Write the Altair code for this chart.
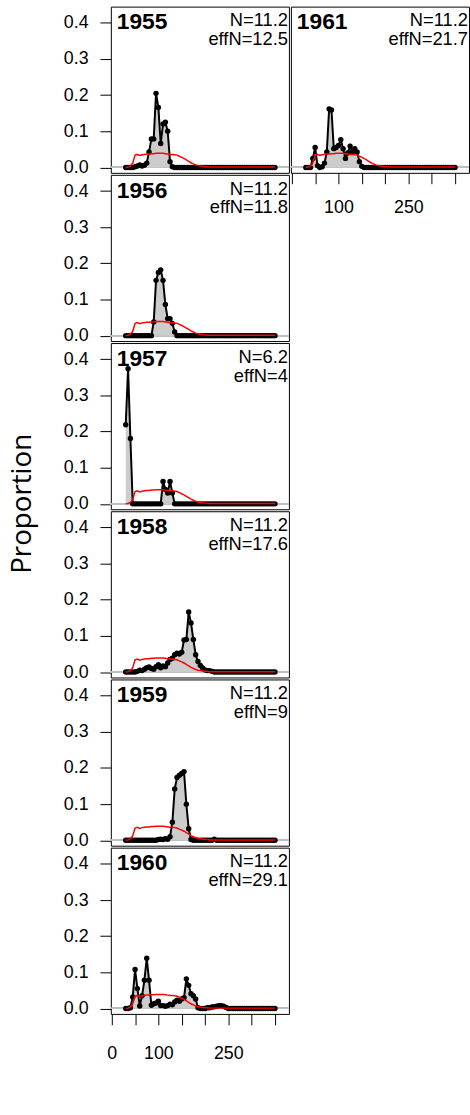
import altair as alt
import pandas as pd

# Length bins (cm)
bins = list(range(30, 351, 5))

years = [1955, 1956, 1957, 1958, 1959, 1960, 1961]
n_text = ["11.2", "11.2", "6.2", "11.2", "11.2", "11.2", "11.2"]
effn_text = ["12.5", "11.8", "4", "17.6", "9", "29.1", "21.7"]

# expected proportions (red line)
exp_prop = [
    0.0, 0.001, 0.004, 0.012, 0.034, 0.036, 0.033, 0.035, 0.036, 0.037,
    0.037, 0.038, 0.038, 0.039, 0.039, 0.039, 0.039, 0.038, 0.037, 0.036,
    0.036, 0.035, 0.034, 0.031, 0.028, 0.025, 0.021, 0.017, 0.013, 0.010,
    0.007, 0.005, 0.004, 0.003, 0.002, 0.002, 0.001, 0.001, 0.001, 0.001,
    0.001, 0.001, 0.001, 0.001, 0.001, 0.001, 0.001, 0.001, 0.001, 0.001,
    0.001, 0.001, 0.001, 0.001, 0.001, 0.001, 0.001, 0.001, 0.001, 0.001,
    0.001, 0.001, 0.001, 0.001, 0.001,
]

obs_1955 = [
    0, 0, 0, 0, 0.002, 0.004, 0.007, 0.004, 0.006, 0.012,
    0.043, 0.079, 0.079, 0.205, 0.166, 0.066, 0.12, 0.125, 0.10, 0.016,
    0.002, 0, 0, 0, 0, 0, 0, 0, 0, 0,
    0, 0, 0, 0, 0, 0, 0, 0, 0, 0,
    0, 0, 0, 0, 0, 0, 0, 0, 0, 0,
    0, 0, 0, 0, 0, 0, 0, 0, 0, 0,
    0, 0, 0, 0, 0,
]
obs_1956 = [
    0, 0, 0, 0, 0, 0, 0, 0, 0, 0,
    0, 0, 0.038, 0.153, 0.175, 0.182, 0.153, 0.086, 0.047, 0.047,
    0.034, 0.01, 0, 0, 0, 0, 0, 0, 0, 0,
    0, 0, 0, 0, 0, 0, 0, 0, 0, 0,
    0, 0, 0, 0, 0, 0, 0, 0, 0, 0,
    0, 0, 0, 0, 0, 0, 0, 0, 0, 0,
    0, 0, 0, 0, 0,
]
obs_1957 = [
    0.219, 0.374, 0.181, 0, 0, 0, 0, 0, 0, 0,
    0, 0, 0, 0, 0, 0, 0.062, 0.04, 0.03, 0.062,
    0.03, 0, 0, 0, 0, 0, 0, 0, 0, 0,
    0, 0, 0, 0, 0, 0, 0, 0, 0, 0,
    0, 0, 0, 0, 0, 0, 0, 0, 0, 0,
    0, 0, 0, 0, 0, 0, 0, 0, 0, 0,
    0, 0, 0, 0, 0,
]
obs_1958 = [
    0, 0, 0, 0, 0, 0.002, 0.005, 0.004, 0.008, 0.012,
    0.014, 0.01, 0.008, 0.015, 0.02, 0.012, 0.017, 0.015, 0.025, 0.035,
    0.038, 0.048, 0.052, 0.05, 0.055, 0.089, 0.09, 0.166, 0.136, 0.09,
    0.048, 0.029, 0.018, 0.011, 0.006, 0.004, 0.004, 0.002, 0, 0,
    0, 0, 0, 0, 0, 0, 0, 0, 0, 0,
    0, 0, 0, 0, 0, 0, 0, 0, 0, 0,
    0, 0, 0, 0, 0,
]
obs_1959 = [
    0, 0, 0, 0, 0, 0, 0, 0, 0, 0,
    0, 0, 0, 0, 0.002, 0.003, 0.002, 0.004, 0.003, 0.01,
    0.05, 0.142, 0.174, 0.18, 0.185, 0.19, 0.10, 0.032, 0.002, 0,
    0, 0, 0, 0, 0, 0, 0, 0, 0.003, 0,
    0, 0, 0, 0, 0, 0, 0, 0, 0, 0,
    0, 0, 0, 0, 0, 0, 0, 0, 0, 0,
    0, 0, 0, 0, 0,
]
obs_1960 = [
    0, 0, 0.002, 0.032, 0.108, 0.055, 0.007, 0.035, 0.078, 0.139,
    0.078, 0.009, 0.013, 0.015, 0.02, 0.008, 0.008, 0.006, 0.008, 0.012,
    0.01, 0.018, 0.023, 0.02, 0.026, 0.03, 0.082, 0.064, 0.041, 0.035,
    0.026, 0.002, 0, 0, 0, 0.002, 0.002, 0.004, 0.005, 0.006,
    0.008, 0.008, 0.006, 0.003, 0, 0, 0, 0, 0, 0,
    0, 0, 0, 0, 0, 0, 0, 0, 0, 0,
    0, 0, 0, 0, 0,
]
obs_1961 = [
    0, 0, 0, 0.025, 0.055, 0.005, 0, 0.002, 0.012, 0.043,
    0.162, 0.159, 0.052, 0.055, 0.061, 0.077, 0.052, 0.025, 0.04, 0.059,
    0.043, 0.052, 0.043, 0.016, 0.003, 0, 0, 0, 0, 0,
    0, 0, 0, 0, 0, 0, 0, 0, 0, 0,
    0, 0, 0, 0, 0, 0, 0, 0, 0, 0,
    0, 0, 0, 0, 0, 0, 0, 0, 0, 0,
    0, 0, 0, 0, 0,
]
obs_all = [obs_1955, obs_1956, obs_1957, obs_1958, obs_1959, obs_1960, obs_1961]

x_ticks = [0, 50, 100, 150, 200, 250, 300, 350]
y_ticks = [0, 0.1, 0.2, 0.3, 0.4]

X_DOM = [-2, 380]
Y_DOM = [-0.015, 0.445]
W, H = 180, 168
FONT = "Liberation Sans"


def make_panel(year, obs, n_txt, effn_txt, show_x, show_y, y_title, x_labels,
               x_pad=20):
    df = pd.DataFrame({"len": bins, "obs": obs, "exp": exp_prop,
                       "zero": [0.0] * len(bins)})
    if show_x:
        expr = " || ".join(f"datum.value == {v}" for v in x_labels)
        xaxis = alt.Axis(values=x_ticks, labelExpr=f"({expr}) ? datum.label : ''",
                         title=None, tickSize=11, tickColor="black", tickWidth=1,
                         labelPadding=x_pad, labelFontSize=18, labelFont=FONT,
                         labelColor="black", domain=False, grid=False,
                         labelFlush=False, labelOverlap=False)
    else:
        xaxis = None
    if show_y:
        kw = dict(values=y_ticks, format=".1f", tickSize=11, tickColor="black",
                  tickWidth=1, labelPadding=12, labelFontSize=18, labelFont=FONT,
                  labelColor="black", domain=False, grid=False,
                  labelFlush=False, labelOverlap=False)
        if y_title:
            yaxis = alt.Axis(title="Proportion", titleFont="Open Sans",
                             titleFontSize=28, titleFontWeight="normal",
                             titleColor="black", titleAngle=270, titleX=-89,
                             titleY=H - 6, titleAlign="center",
                             titleBaseline="middle", **kw)
        else:
            yaxis = alt.Axis(title=None, **kw)
    else:
        yaxis = None

    xs = alt.Scale(domain=X_DOM, nice=False, zero=False)
    ys = alt.Scale(domain=Y_DOM, nice=False, zero=False)

    def X(f):
        return alt.X(f"{f}:Q", scale=xs, axis=xaxis)

    def Y(f):
        return alt.Y(f"{f}:Q", scale=ys, axis=yaxis)

    base = alt.Chart(df)
    rule = base.mark_rule(color="#bebebe", strokeWidth=1).encode(y=Y("zero"))
    area = base.mark_area(color="#cccccc", opacity=1).encode(
        x=X("len"), y=Y("obs"), y2=alt.Y2("zero"))
    line = base.mark_line(color="black", strokeWidth=2).encode(
        x=X("len"), y=Y("obs"))
    pts = base.mark_circle(color="black", size=30, opacity=1).encode(
        x=X("len"), y=Y("obs"))
    red = base.mark_line(color="red", strokeWidth=1.5).encode(
        x=X("len"), y=Y("exp"))

    tdf = pd.DataFrame({"yr": [str(year)], "n": [f"N={n_txt}"],
                        "e": [f"effN={effn_txt}"]})
    tb = alt.Chart(tdf)
    t_year = tb.mark_text(align="left", baseline="alphabetic", fontSize=23,
                          fontWeight="bold", font=FONT, color="black").encode(
        text="yr:N", x=alt.value(6), y=alt.value(23))
    t_n = tb.mark_text(align="right", baseline="alphabetic", fontSize=18.5,
                       font=FONT, color="black").encode(
        text="n:N", x=alt.value(W - 1), y=alt.value(20))
    t_e = tb.mark_text(align="right", baseline="alphabetic", fontSize=18.5,
                       font=FONT, color="black").encode(
        text="e:N", x=alt.value(W - 1), y=alt.value(39))

    return alt.layer(rule, area, line, pts, red, t_year, t_n, t_e).properties(
        width=W, height=H)


panels = []
for i in range(6):
    panels.append(make_panel(years[i], obs_all[i], n_text[i], effn_text[i],
                             show_x=(i == 5), show_y=True, y_title=(i == 2),
                             x_labels=[0, 100, 250]))

p1961 = make_panel(years[6], obs_all[6], n_text[6], effn_text[6],
                   show_x=True, show_y=False, y_title=False,
                   x_labels=[100, 250], x_pad=15)

col1 = alt.vconcat(*panels, spacing=2, bounds="flush")
chart = alt.hconcat(col1, p1961, spacing=0).properties(
    padding={"left": 8, "top": 0, "right": 0, "bottom": 0}
).configure_view(stroke="black", strokeWidth=1)

chart.save("out.html", embed_options={"renderer": "svg", "actions": False})
